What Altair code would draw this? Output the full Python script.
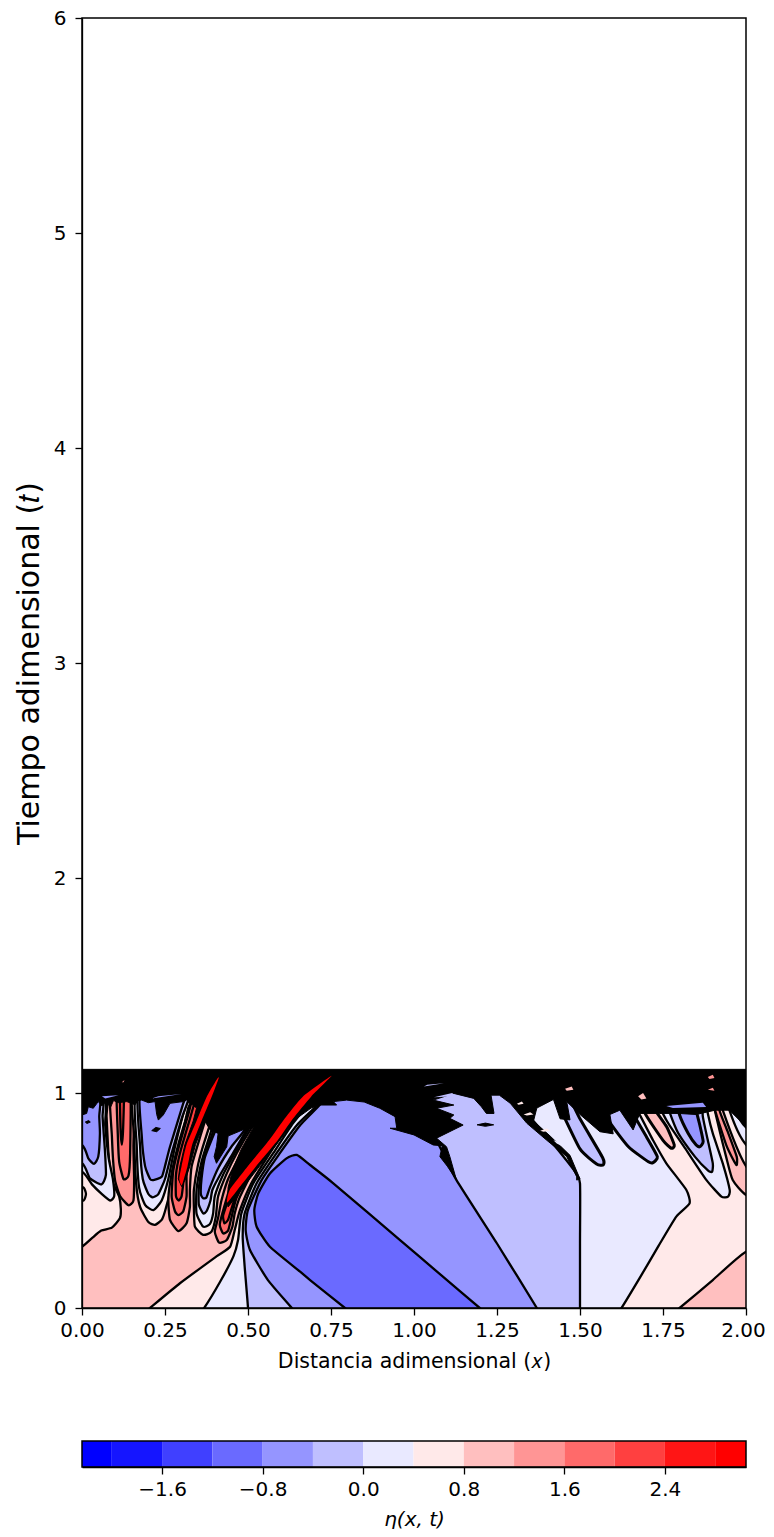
import altair as alt
import pandas as pd

# colour bands of the filled contours
band_names = ["b00","b01","b02","b03","b04","b05","b06","b07","b08","b09","b10","b11","b12","b13"]
band_colors = ["#0000ff","#1515ff","#4040ff","#6a6aff","#9595ff","#bfbfff","#e9e9ff",
               "#ffe9e9","#ffbfbf","#ff9595","#ff6a6a","#ff4040","#ff1515","#ff0000"]
band_edges = [-2.237,-2.0,-1.6,-1.2,-0.8,-0.4,0.0,0.4,0.8,1.2,1.6,2.0,2.4,2.8,3.045]
x_ticks = [0,0.25,0.5,0.75,1.0,1.25,1.5,1.75,2.0]
t_ticks = [0,1,2,3,4,5,6]
cb_ticks = [-1.6,-0.8,0.0,0.8,1.6,2.4]

# big regions (x, t)
base_rect = [(-.05,-.05),(2.05,-.05),(2.05,1.03),(-.05,1.03)]
big_ffe9 = [(.03,-.25),(.12,-.11),(.205,0),(.295,.115),(.405,.24),(.446,.285),(.46,.363),(.476,.456),(.51,.58),(.566,.72),(.627,.86),(.68,.95),(.75,1.03),(1.4,1.06),(2.05,1.03),(2.2,.50),(2.2,.42),(2,.262),(1.9,.13),(1.8,0),(1.7,-.13),(1.6,-.25)]
big_e9 = [(.25,-.25),(.31,-.12),(.368,0),(.416,.122),(.456,.24),(.47,.316),(.48,.44),(.516,.58),(.576,.72),(.636,.86),(.687,.95),(.75,1.03),(1.2,1.06),(1.62,1.03),(1.64,.998),(1.68,.898),(1.72,.78),(1.76,.673),(1.82,.55),(1.83,.487),(1.79,.425),(1.737,.29),(1.68,.14),(1.625,0),(1.57,-.12),(1.5,-.25)]
big_bf = [(.5,-.25),(.5,-.1),(.5,0),(.49,.192),(.484,.332),(.49,.44),(.526,.58),(.586,.72),(.647,.85),(.70,.93),(.76,1.03),(1.0,1.06),(1.28,1.03),(1.30,.98),(1.34,.905),(1.41,.78),(1.485,.634),(1.5,.58),(1.5,.3),(1.5,0),(1.5,-.1),(1.5,-.25)]
big_95 = [(.77,-.25),(.70,-.13),(.632,0),(.56,.13),(.506,.27),(.493,.363),(.50,.456),(.541,.595),(.596,.72),(.657,.85),(.716,.944),(.76,1.03),(.9,1.05),(1.03,1.03),(1.063,.80),(1.088,.72),(1.128,.595),(1.25,.30),(1.37,0),(1.42,-.13),(1.47,-.25)]
blob_6a = [(1.0,-.25),(.89,-.12),(.792,0),(.687,.13),(.657,.169),(.566,.285),(.526,.378),(.519,.456),(.531,.533),(.566,.626),(.616,.696),(.647,.712),(.687,.665),(.757,.58),(.958,.316),(1.08,.155),(1.198,0),(1.29,-.12),(1.39,-.25)]

# first trough, on the left edge
t1_08 = [(-.1,.18),(0,.285),(.03,.325),(.058,.36),(.09,.374),(.114,.417),(.117,.46),(.112,.518),(.094,.58),(.084,.657),(.079,.735),(.074,.89),(.07,1.03),(-.1,1.03)]
t1_04 = [(-.1,.70),(0,.634),(.03,.575),(.06,.53),(.085,.50),(.097,.52),(.093,.60),(.08,.70),(.07,.85),(.065,1.03),(-.1,1.03)]
t1_00 = [(-.1,.74),(0,.673),(.024,.603),(.059,.575),(.072,.619),(.069,.735),(.062,.89),(.06,1.03),(-.1,1.03)]
t1_m4 = [(-.1,.84),(0,.758),(.019,.696),(.036,.67),(.049,.704),(.054,.812),(.052,.89),(.05,1.03),(-.1,1.03)]
edge_bit = [(-.02,.505),(.005,.5),(.012,.53),(.005,.56),(-.02,.57)]

# first crest
c1_12 = [(.085,1.03),(.09,.80),(.094,.68),(.10,.59),(.115,.52),(.14,.478),(.155,.5),(.157,.6),(.155,.75),(.155,1.03)]
c1_16 = [(.105,1.03),(.108,.8),(.112,.68),(.125,.60),(.14,.615),(.145,.72),(.145,1.03)]
c1_20 = [(.115,1.03),(.116,.84),(.12,.76),(.124,.84),(.126,1.03)]

# second trough
t2_08 = [(.157,1.03),(.157,.8),(.163,.58),(.175,.47),(.20,.40),(.22,.387),(.24,.41),(.25,.45),(.27,.57),(.29,.72),(.32,.93),(.345,1.03)]
t2_04 = [(.165,1.03),(.165,.75),(.172,.56),(.19,.48),(.215,.455),(.24,.50),(.26,.60),(.28,.75),(.31,.93),(.335,1.03)]
t2_00 = [(.172,1.03),(.175,.75),(.183,.6),(.20,.53),(.213,.515),(.23,.53),(.25,.60),(.27,.72),(.30,.88),(.325,1.03)]
t2_m4 = [(.178,1.03),(.18,.8),(.19,.66),(.205,.60),(.215,.595),(.24,.61),(.25,.66),(.265,.75),(.305,.952),(.32,1.03)]

# second crest
c2_12 = [(.36,1.03),(.335,.967),(.305,.84),(.28,.70),(.265,.58),(.26,.50),(.265,.41),(.29,.358),(.315,.394),(.325,.47),(.325,.55),(.33,.657),(.35,.766),(.375,.89),(.405,1.01),(.41,1.03)]
c2_16 = [(.345,1.03),(.32,.9),(.29,.74),(.275,.64),(.27,.52),(.28,.45),(.29,.432),(.305,.45),(.315,.52),(.315,.62),(.325,.72),(.345,.83),(.37,.95),(.395,1.03)]
c2_20 = [(.355,1.03),(.325,.88),(.295,.72),(.283,.62),(.283,.52),(.292,.50),(.30,.52),(.305,.58),(.31,.66),(.33,.78),(.36,.91),(.39,1.03)]

# third trough
t3_08 = [(.436,1.045),(.405,.936),(.37,.78),(.35,.67),(.337,.55),(.337,.47),(.34,.378),(.365,.34),(.39,.355),(.403,.425),(.41,.52),(.436,.626),(.466,.72),(.51,.836),(.526,.867),(.60,1.03)]
t3_04 = [(.44,1.03),(.41,.92),(.38,.78),(.36,.68),(.345,.55),(.345,.44),(.365,.378),(.385,.39),(.395,.44),(.40,.52),(.425,.62),(.46,.72),(.505,.84),(.58,1.03)]
t3_00 = [(.45,1.03),(.42,.93),(.39,.80),(.365,.68),(.352,.56),(.352,.48),(.365,.44),(.375,.45),(.387,.50),(.393,.55),(.42,.63),(.455,.72),(.50,.84),(.57,1.03)]
t3_m4 = [(.46,1.03),(.43,.93),(.395,.80),(.37,.70),(.36,.6),(.358,.53),(.365,.51),(.375,.515),(.385,.56),(.41,.65),(.45,.75),(.495,.84),(.55,1.03)]

# third crest, along the long stripe
c3_12 = [(.62,1.03),(.525,.84),(.48,.72),(.44,.60),(.42,.50),(.41,.42),(.40,.355),(.413,.304),(.436,.316),(.453,.378),(.46,.44),(.476,.518),(.516,.64),(.576,.77),(.636,.88),(.687,.975),(.75,1.03)]
c3_16 = [(.63,1.03),(.53,.84),(.485,.70),(.45,.58),(.43,.48),(.415,.39),(.425,.347),(.44,.36),(.45,.42),(.465,.51),(.505,.63),(.56,.75),(.62,.87),(.67,.96),(.73,1.03)]
c3_20 = [(.64,1.0),(.54,.84),(.495,.69),(.46,.58),(.44,.50),(.425,.43),(.429,.394),(.44,.41),(.45,.46),(.47,.55),(.52,.66),(.60,.81),(.69,1.0)]

# lobes on the right
lobe_a = [(1.41,1.03),(1.44,.93),(1.50,.74),(1.55,.67),(1.57,.665),(1.568,.70),(1.50,.88),(1.45,1.03)]
lobe_b = [(1.53,1.03),(1.585,.874),(1.646,.75),(1.706,.68),(1.72,.676),(1.733,.704),(1.70,.797),(1.66,.905),(1.63,1.03)]
lobe_c = [(1.67,1.03),(1.696,.905),(1.75,.78),(1.775,.743),(1.784,.758),(1.761,.843),(1.72,.936),(1.70,1.03)]
lobe_d = [(1.72,1.03),(1.76,.874),(1.82,.735),(1.881,.595),(1.926,.518),(1.946,.518),(1.951,.549),(1.93,.673),(1.90,.812),(1.885,.905),(1.87,1.03)]
lobe_e = [(1.75,1.03),(1.791,.828),(1.846,.704),(1.886,.639),(1.898,.634),(1.90,.673),(1.885,.78),(1.87,.89),(1.86,1.03)]
lobe_f = [(1.78,1.03),(1.80,.898),(1.826,.812),(1.85,.758),(1.861,.75),(1.871,.774),(1.861,.85),(1.85,.92),(1.84,1.03)]
right_08 = [(1.89,1.03),(1.906,.92),(1.92,.828),(1.94,.704),(1.96,.595),(2.0,.526),(2.1,.46),(2.2,.46),(2.2,1.03)]
lobe_g = [(1.895,1.03),(1.907,.92),(1.94,.76),(1.962,.688),(1.972,.665),(1.972,.704),(1.945,.82),(1.92,.92),(1.91,1.03)]
right_a = [(2.2,.30),(2,.66),(1.93,.92),(1.915,1.03),(2.2,1.03)]
right_b = [(2.2,.50),(2,.76),(1.95,.92),(1.94,1.03),(2.2,1.03)]
right_c = [(2.2,.60),(2,.84),(1.97,.92),(1.96,1.03),(2.2,1.03)]

# black mass of packed contour lines, along its jagged lower edge
black_mass = [(-.03,1.11),(-.03,.90),(0,.898),(.014,.905),(.019,.936),(.034,.929),(.049,.96),(.06,.94),(.075,.965),(.085,.93),(.095,.965),(.11,.955),(.135,.96),(.16,.945),(.168,.965),(.18,.967),(.2,.955),(.22,.96),(.225,.90),(.23,.874),(.245,.898),(.265,.952),(.305,.96),(.315,.967),
 (.345,.93),(.335,.87),(.31,.76),(.295,.66),(.29,.60),(.30,.565),(.312,.60),(.325,.66),(.342,.76),(.37,.87),(.385,.83),(.41,.812),(.405,.75),(.398,.704),(.405,.673),(.436,.75),(.44,.80),(.496,.836),(.516,.84),(.48,.74),(.455,.65),(.44,.56),(.438,.49),(.44,.47),(.48,.549),(.535,.66),(.596,.781),(.645,.88),(.69,.93),(.717,.944),(.767,.944),(.757,.96),(.797,.967),(.85,.958),(.897,.929),(.943,.89),(.948,.836),(.928,.836),(1.0,.805),(1.058,.758),(1.085,.755),(1.078,.704),(1.10,.66),(1.128,.595),
 (1.108,.704),(1.098,.75),(1.068,.79),(1.148,.851),(1.108,.882),(1.12,.898),(1.068,.929),(1.12,.944),(1.058,.967),(1.12,.998),(1.18,.975),(1.203,.936),(1.218,.905),(1.241,.905),(1.232,.99),(1.257,.99),(1.29,.952),(1.34,.859),(1.40,.78),(1.46,.704),(1.49,.61),(1.49,.595),(1.50,.60),(1.47,.71),(1.41,.80),(1.36,.87),(1.37,.93),(1.42,.97),(1.44,.88),(1.47,.875),(1.46,.96),(1.50,.90),(1.56,.82),(1.60,.81),(1.59,.90),(1.62,.92),(1.66,.828),(1.68,.905),(1.74,.905),(1.796,.905),(1.85,.90),(1.907,.92),(1.95,.92),(2.0,.843),(2.03,.84),(2.03,1.11)]
black_spot_a = [(.21,.825),(.222,.84),(.236,.835),(.225,.82)]
black_spot_b = [(1.19,.852),(1.215,.86),(1.24,.852),(1.215,.845)]
black_spot_c = [(.01,.865),(.02,.872),(.025,.865),(.015,.858)]

# red stripes lying above the black mass
stripe_c2 = [(.293,.60),(.30,.66),(.315,.76),(.345,.87),(.375,.98),(.405,1.06),(.412,1.07),(.39,.98),(.36,.87),(.332,.76),(.318,.66),(.307,.60),(.30,.57)]
stripe_c3 = [(.437,.49),(.445,.549),(.50,.66),(.564,.781),(.61,.88),(.665,.983),(.752,1.08),(.69,.983),(.635,.88),(.59,.781),(.525,.66),(.468,.549)]

# small flecks left open in the black mass: (band, points)
fleck_1 = [(.12,1.05),(.128,1.06),(.125,1.05)]
fleck_2 = [(.21,.975),(.30,.995),(.23,.985)]
fleck_3 = [(.06,.985),(.11,.99),(.07,.975)]
fleck_4 = [(1.03,1.03),(1.09,1.045),(1.04,1.038)]
fleck_5 = [(1.06,.98),(1.115,1.0),(1.125,.985)]
fleck_6 = [(1.31,.95),(1.325,.96),(1.33,.95),(1.315,.945)]
fleck_7 = [(1.33,.90),(1.35,.91),(1.36,.90),(1.34,.895)]
fleck_8 = [(1.38,.825),(1.40,.835),(1.41,.825),(1.39,.82)]
fleck_9 = [(1.42,.78),(1.44,.77),(1.45,.75),(1.43,.765)]
fleck_10 = [(1.455,1.02),(1.475,1.03),(1.48,1.015),(1.46,1.01)]
fleck_11 = [(1.675,.985),(1.69,1.0),(1.70,.975),(1.685,.97)]
fleck_12 = [(1.885,1.075),(1.90,1.085),(1.905,1.07),(1.89,1.065)]
fleck_13 = [(1.76,.94),(1.87,.955),(1.88,.935),(1.78,.93)]
fleck_14 = [(1.885,1.015),(1.90,1.025),(1.905,1.01)]

smooth_layers = [
 ("b07",big_ffe9),("b06",big_e9),("b05",big_bf),("b04",big_95),("b03",blob_6a),
 ("b07",t1_08),("b06",t1_04),("b05",t1_00),("b04",t1_m4),("b07",edge_bit),
 ("b09",c1_12),("b10",c1_16),("b11",c1_20),
 ("b07",t2_08),("b06",t2_04),("b05",t2_00),("b04",t2_m4),
 ("b09",c2_12),("b10",c2_16),("b11",c2_20),
 ("b07",t3_08),("b06",t3_04),("b05",t3_00),("b04",t3_m4),
 ("b09",c3_12),("b10",c3_16),("b11",c3_20),
 ("b05",lobe_a),("b05",lobe_b),("b08",lobe_c),("b06",lobe_d),("b05",lobe_e),("b04",lobe_f),
 ("b08",right_08),("b09",lobe_g),("b07",right_a),("b06",right_b),("b05",right_c),
]
heavy_outlines = [lobe_a, lobe_b, lobe_c, lobe_f]
flecks = [("b09",fleck_1),("b04",fleck_2),("b04",fleck_3),("b05",fleck_4),("b05",fleck_5),("b07",fleck_6),("b07",fleck_7),
          ("b07",fleck_8),("b06",fleck_9),("b08",fleck_10),("b08",fleck_11),("b09",fleck_12),("b04",fleck_13),("b09",fleck_14)]

fill_scale = alt.Scale(domain=band_names, range=band_colors)
common = dict(grid=False, tickWidth=1.3, domainWidth=1.3, tickSize=7,
              labelColor="black", titleColor="black", tickColor="black", domainColor="black",
              labelFont="DejaVu Sans", titleFont="DejaVu Sans", titleFontWeight="normal", zindex=1)
x_enc = alt.X("x:Q", scale=alt.Scale(domain=[0,2], nice=False, zero=False),
              axis=alt.Axis(values=x_ticks, format=".2f", title="Distancia adimensional (𝑥)",
                            labelFontSize=20, titleFontSize=20.5, labelPadding=5, titlePadding=11, labelFlush=False,
                            labelOffset={"condition":{"test":"datum.value == 2","value":-3},"value":0}, **common))
y_enc = alt.Y("t:Q", scale=alt.Scale(domain=[0,6], nice=False, zero=False),
              axis=alt.Axis(values=t_ticks, format="d", title="Tiempo adimensional (𝑡)",
                            labelFontSize=20, titleFontSize=30, labelPadding=9, titlePadding=9, **common))

def poly(band, pts, interp, stroked):
    df = pd.DataFrame(pts, columns=["x","t"])
    df["i"] = range(len(df))
    df["band"] = band
    heavy = any(pts is h for h in heavy_outlines)
    kw = dict(stroke="black", strokeWidth=3.0 if heavy else 2.3) if stroked else dict(strokeWidth=0)
    if interp.startswith("cardinal"):
        kw["tension"] = 0.45
    return alt.Chart(df).mark_line(interpolate=interp, clip=True, **kw).encode(
        x=x_enc, y=y_enc, order=alt.Order("i:Q"),
        fill=alt.Fill("band:N", scale=fill_scale, legend=None))

def black_poly(pts):
    df = pd.DataFrame(pts, columns=["x","t"])
    df["i"] = range(len(df))
    return alt.Chart(df).mark_line(interpolate="linear-closed", clip=True, stroke="black", strokeWidth=1, fill="black").encode(
        x=x_enc, y=y_enc, order=alt.Order("i:Q"))

layers = [poly("b08", base_rect, "linear-closed", False)]
layers += [poly(b, p, "cardinal-closed", True) for b, p in smooth_layers]
layers += [black_poly(p) for p in (black_mass, black_spot_a, black_spot_b, black_spot_c)]
layers += [poly("b13", stripe_c2, "cardinal-closed", False), poly("b13", stripe_c3, "cardinal-closed", False)]
layers += [poly(b, p, "linear-closed", False) for b, p in flecks]
frame = alt.Chart(pd.DataFrame({"x":[0],"x2":[2],"t":[0],"t2":[6]})).mark_rect(filled=False, stroke="black", strokeWidth=1.5).encode(
    x=x_enc, x2="x2:Q", y=y_enc, y2="t2:Q")
layers.append(frame)
main = alt.layer(*layers).properties(width=664, height=1290)

cb_df = pd.DataFrame({"lo":band_edges[:-1], "hi":band_edges[1:], "band":band_names})
cb_x = alt.X("lo:Q", scale=alt.Scale(domain=[band_edges[0], band_edges[-1]], nice=False, zero=False),
             axis=alt.Axis(values=cb_ticks, format=".1f", title="η(x, t)", labelFontSize=20, titleFontSize=20,
                           titleFontStyle="italic", labelPadding=5, titlePadding=10, **common))
bar = alt.Chart(cb_df).mark_rect().encode(x=cb_x, x2="hi:Q", fill=alt.Fill("band:N", scale=fill_scale, legend=None))
cb_frame = alt.Chart(pd.DataFrame({"lo":[band_edges[0]],"hi":[band_edges[-1]]})).mark_rect(filled=False, stroke="black", strokeWidth=1.5).encode(x=cb_x, x2="hi:Q")
colorbar = alt.layer(bar, cb_frame).properties(width=664, height=26)

chart = alt.vconcat(main, colorbar, spacing=68).configure_view(stroke=None).properties(
    padding={"left":6,"top":0,"right":0,"bottom":0}, background="white")
chart.save("out.html", embed_options={"renderer": "svg", "actions": False})
